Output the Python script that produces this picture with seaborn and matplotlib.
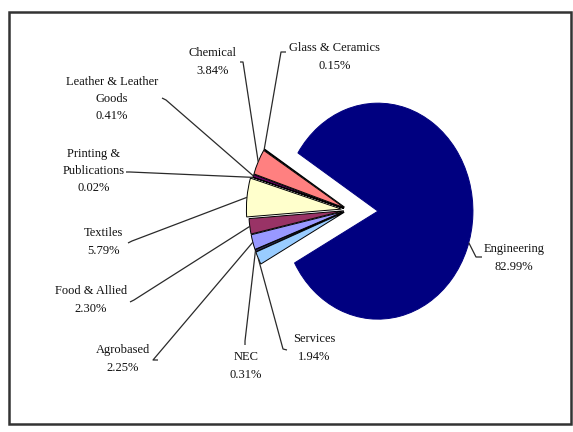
import numpy as np
import matplotlib
matplotlib.use("Agg")
import matplotlib.pyplot as plt
from matplotlib.patches import Rectangle
import seaborn as sns

# Sector shares (percent), counter-clockwise starting with Engineering
sectors = ["Engineering", "Glass & Ceramics", "Chemical", "Leather & Leather\nGoods",
           "Printing &\nPublications", "Textiles", "Food & Allied", "Agrobased", "NEC", "Services"]
shares = [82.99, 0.15, 3.84, 0.41, 0.02, 5.79, 2.30, 2.25, 0.31, 1.94]
share_labels = ["82.99%", "0.15%", "3.84%", "0.41%", "0.02%", "5.79%", "2.30%", "2.25%", "0.31%", "1.94%"]
sector_colors = ["#000080", "#0066CC", "#FF8080", "#660066", "#CCFFFF",
                 "#FFFFCC", "#993366", "#9999FF", "#333366", "#99CCFF"]

sns.set_style("white")
plt.rcParams["font.family"] = ["Liberation Serif", "DejaVu Serif"]

W, H = 573, 432
fig = plt.figure(figsize=(W / 100, H / 100), dpi=100)
ax = fig.add_axes([0, 0, 1, 1])

# pie centre / radii in pixels (pie is slightly taller than wide)
x0, y0, rx, ry = 348.5, 210, 95, 108


def px(x, y):
    return ((x - x0) / rx, (y0 - y) / ry)


explode = [0.31, 0.05, 0.05, 0.05, 0.05, 0.075, 0.05, 0.05, 0.05, 0.05]
start = 147.4 - shares[0] * 3.6
wedges, _ = ax.pie(shares, explode=explode, colors=sns.color_palette(sector_colors),
                   startangle=start, counterclock=True,
                   wedgeprops=dict(edgecolor="black", linewidth=0.7))
wedges[0].set_edgecolor(sector_colors[0])
ax.set_aspect("auto")
ax.set_xlim(-x0 / rx, (W - x0) / rx)
ax.set_ylim(-(H - y0) / ry, y0 / ry)
ax.axis("off")

# label layout in pixels: text centre, leader start, leader knee
text_pos = [(514, 258), (335, 57), (213, 62), (112, 99), (94, 171),
            (103, 242), (91, 300), (123, 359), (246, 366), (314, 348)]
lead_start = [(482, 257), (286, 52), (240, 62), (162, 98), (126, 172),
              (128, 243), (130, 302), (158, 360), (245, 345), (287, 350)]
lead_knee = [(476, 257), (281, 52), (243, 62), (166, 100), (130, 172),
             (132, 241), (134, 300), (153, 360), (245, 341), (283, 349)]

for i, w in enumerate(wedges):
    if i == 0:
        th = np.deg2rad(-17)
    else:
        th = np.deg2rad((w.theta1 + w.theta2) / 2)
    cx, cy = w.center
    tx, ty = cx + w.r * np.cos(th), cy + w.r * np.sin(th)
    sx, sy = px(*lead_start[i])
    kx, ky = px(*lead_knee[i])
    ax.plot([sx, kx, tx], [sy, ky, ty], color="#2a2a2a", lw=0.9, solid_capstyle="butt")
    lx, ly = px(*text_pos[i])
    ax.text(lx, ly, f"{sectors[i]}\n{share_labels[i]}", ha="center", va="center",
            fontsize=9, linespacing=1.6, color="#111111")

fig.add_artist(Rectangle((9 / W, 1 - 424 / H), 562 / W, 412 / H, transform=fig.transFigure,
                         fill=False, edgecolor="#333333", linewidth=1.8))

fig.savefig("out.png", dpi=100, facecolor="white")
